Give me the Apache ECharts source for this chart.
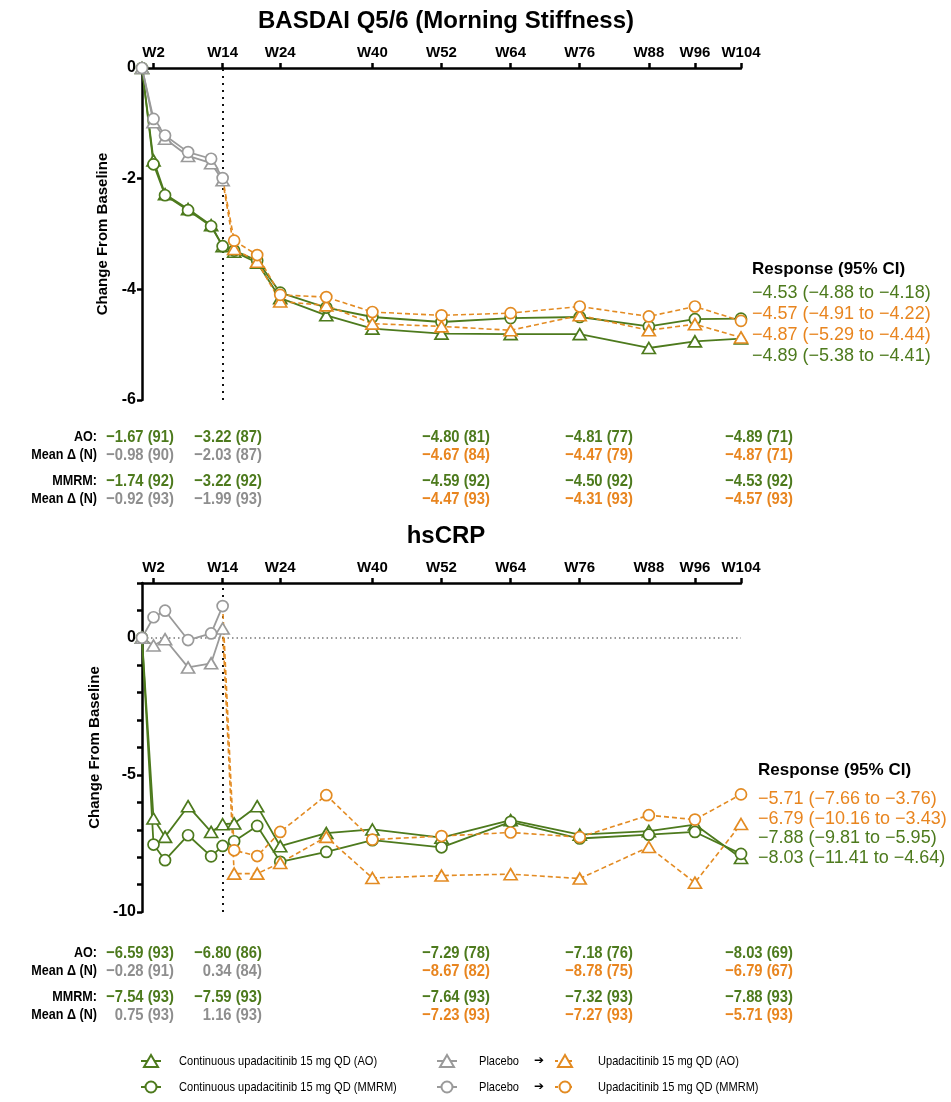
<!DOCTYPE html>
<html><head><meta charset="utf-8">
<script src="https://cdn.jsdelivr.net/npm/echarts@6/dist/echarts.min.js"></script>
<style>html,body{margin:0;padding:0;background:#fff}#c{width:951px;height:1102px}</style>
</head><body><div id="c"></div>
<script>
// ---------- DATA ----------
const weeks = [0,2,4,8,12,14,16,20,24,32,40,52,64,76,88,96,104];
const placeboWeeks = [0,2,4,8,12,14];
const switchWeeks = [14,16,20,24,32,40,52,64,76,88,96,104];
const tickWeeks = [2,14,24,40,52,64,76,88,96,104];

// BASDAI Q5/6
const basdaiUpaAO   = [0,-1.67,-2.28,-2.55,-2.84,-3.22,-3.32,-3.52,-4.16,-4.47,-4.71,-4.80,-4.81,-4.81,-5.06,-4.94,-4.89];
const basdaiUpaMMRM = [0,-1.74,-2.30,-2.57,-2.86,-3.22,-3.30,-3.48,-4.06,-4.33,-4.50,-4.59,-4.52,-4.50,-4.67,-4.54,-4.53];
const basdaiPboAO   = [0,-0.98,-1.28,-1.59,-1.72,-2.03];
const basdaiPboMMRM = [0,-0.92,-1.22,-1.52,-1.64,-1.99];
const basdaiSwAO    = [-2.03,-3.27,-3.50,-4.22,-4.29,-4.62,-4.67,-4.74,-4.47,-4.74,-4.63,-4.87];
const basdaiSwMMRM  = [-1.99,-3.12,-3.38,-4.10,-4.14,-4.41,-4.47,-4.43,-4.31,-4.49,-4.31,-4.57];

// hsCRP
const crpUpaAO   = [0,-6.59,-7.26,-6.14,-7.08,-6.80,-6.77,-6.14,-7.60,-7.12,-6.99,-7.29,-6.65,-7.18,-7.05,-6.81,-8.03];
const crpUpaMMRM = [0,-7.54,-8.11,-7.20,-7.97,-7.59,-7.42,-6.86,-8.17,-7.81,-7.38,-7.64,-6.71,-7.32,-7.18,-7.08,-7.88];
const crpPboAO   = [0,-0.28,-0.05,-1.08,-0.93,0.34];
const crpPboMMRM = [0,0.75,0.99,-0.08,0.16,1.16];
const crpSwAO    = [0.34,-8.60,-8.60,-8.21,-7.26,-8.76,-8.67,-8.62,-8.78,-7.63,-8.93,-6.79];
const crpSwMMRM  = [1.16,-7.75,-7.96,-7.08,-5.74,-7.36,-7.23,-7.10,-7.27,-6.47,-6.63,-5.71];

// Tables (W2, W14, W52, W76, W104)
const basdaiTblAO      = ['−1.67 (91)','−3.22 (87)','−4.80 (81)','−4.81 (77)','−4.89 (71)'];
const basdaiTblAOPbo   = ['−0.98 (90)','−2.03 (87)','−4.67 (84)','−4.47 (79)','−4.87 (71)'];
const basdaiTblMM      = ['−1.74 (92)','−3.22 (92)','−4.59 (92)','−4.50 (92)','−4.53 (92)'];
const basdaiTblMMPbo   = ['−0.92 (93)','−1.99 (93)','−4.47 (93)','−4.31 (93)','−4.57 (93)'];
const crpTblAO         = ['−6.59 (93)','−6.80 (86)','−7.29 (78)','−7.18 (76)','−8.03 (69)'];
const crpTblAOPbo      = ['−0.28 (91)','0.34 (84)','−8.67 (82)','−8.78 (75)','−6.79 (67)'];
const crpTblMM         = ['−7.54 (93)','−7.59 (93)','−7.64 (93)','−7.32 (93)','−7.88 (93)'];
const crpTblMMPbo      = ['0.75 (93)','1.16 (93)','−7.23 (93)','−7.27 (93)','−5.71 (93)'];
const rowLabels = ['AO:','Mean Δ (N)','MMRM:','Mean Δ (N)'];

// Responses (95% CI)
const basdaiResp = ['−4.53 (−4.88 to −4.18)','−4.57 (−4.91 to −4.22)','−4.87 (−5.29 to −4.44)','−4.89 (−5.38 to −4.41)'];
const basdaiRespGroup = ['upa','sw','sw','upa'];
const crpResp = ['−5.71 (−7.66 to −3.76)','−6.79 (−10.16 to −3.43)','−7.88 (−9.81 to −5.95)','−8.03 (−11.41 to −4.64)'];
const crpRespGroup = ['sw','sw','upa','upa'];

const legendRow1 = ['Continuous upadacitinib 15 mg QD (AO)','Placebo','Upadacitinib 15 mg QD (AO)'];
const legendRow2 = ['Continuous upadacitinib 15 mg QD (MMRM)','Placebo','Upadacitinib 15 mg QD (MMRM)'];

// ---------- STYLE ----------
const GREEN = '#4d7a1d', ORANGE = '#e38b22', GRAY = '#9a9a9a', GRAYTXT = '#8e8e8e', ORANGETXT = '#e8851f';
const FONT = "'Liberation Sans', Arial, sans-serif";
const colorOf = {upa: GREEN, sw: ORANGE, pbo: GRAY};

function pairs(xs, ys, firstNoSymbol) {
  return ys.map((v, i) => {
    const d = {value: [xs[i], v]};
    if (firstNoSymbol && i === 0) d.symbol = 'none';
    return d;
  });
}
function lineSeries(idx, xs, ys, grp, sym, dashed) {
  const c = colorOf[grp];
  return {
    type: 'line', xAxisIndex: idx, yAxisIndex: idx,
    data: pairs(xs, ys, grp === 'sw'),
    symbol: sym === 't' ? 'triangle' : 'circle',
    symbolSize: sym === 't' ? [13, 11] : 11,
    showAllSymbol: true,
    lineStyle: {color: c, width: dashed ? 1.6 : 1.8, type: dashed ? [5, 3] : 'solid'},
    itemStyle: {color: '#fff', borderColor: c, borderWidth: 1.7},
    emphasis: {disabled: true}, silent: true, z: 3
  };
}
function vline(idx) {
  return {
    type: 'line', xAxisIndex: idx, yAxisIndex: idx, data: [], silent: true, z: 1,
    markLine: {silent: true, symbol: 'none', label: {show: false}, z: 1,
      lineStyle: {color: '#111', width: 2, type: [2, 5]},
      data: [{xAxis: 14}]}
  };
}

const xAxisBase = (idx) => ({
  gridIndex: idx, type: 'value', min: 0, max: 104, position: 'top',
  axisLine: {show: true, onZero: false, lineStyle: {color: '#000', width: 2.5}},
  axisTick: {show: true, customValues: tickWeeks, length: 5, lineStyle: {color: '#000', width: 2.5}},
  axisLabel: {customValues: tickWeeks, formatter: v => 'W' + v, color: '#000', fontWeight: 'bold', fontSize: 15, fontFamily: FONT, margin: 8},
  splitLine: {show: false}
});

const series = [
  vline(0),
  lineSeries(0, weeks, basdaiUpaAO, 'upa', 't', false),
  lineSeries(0, weeks, basdaiUpaMMRM, 'upa', 'c', false),
  lineSeries(0, placeboWeeks, basdaiPboAO, 'pbo', 't', false),
  lineSeries(0, placeboWeeks, basdaiPboMMRM, 'pbo', 'c', false),
  lineSeries(0, switchWeeks, basdaiSwAO, 'sw', 't', true),
  lineSeries(0, switchWeeks, basdaiSwMMRM, 'sw', 'c', true),
  vline(1),
  {type: 'line', xAxisIndex: 1, yAxisIndex: 1, data: [], silent: true, z: 1,
   markLine: {silent: true, symbol: 'none', label: {show: false}, z: 1,
     lineStyle: {color: '#777', width: 1.5, type: [1.5, 3]}, data: [{yAxis: 0}]}},
  lineSeries(1, weeks, crpUpaAO, 'upa', 't', false),
  lineSeries(1, weeks, crpUpaMMRM, 'upa', 'c', false),
  lineSeries(1, placeboWeeks, crpPboAO, 'pbo', 't', false),
  lineSeries(1, placeboWeeks, crpPboMMRM, 'pbo', 'c', false),
  lineSeries(1, switchWeeks, crpSwAO, 'sw', 't', true),
  lineSeries(1, switchWeeks, crpSwMMRM, 'sw', 'c', true)
];

// ---------- GRAPHIC TEXT ----------
const graphic = [];
function txt(x, y, s, opt, sx) {
  const el = {type: 'text', x: x, y: y, silent: true, style: Object.assign({
    text: s, fill: '#000', font: 'bold 14px ' + FONT, textAlign: 'left', textVerticalAlign: 'middle'
  }, opt || {})};
  if (sx) el.scaleX = sx;
  graphic.push(el);
}
txt(446, 21, 'BASDAI Q5/6 (Morning Stiffness)', {font: 'bold 24px ' + FONT, textAlign: 'center'});
txt(446, 536, 'hsCRP', {font: 'bold 24px ' + FONT, textAlign: 'center'});

const colRight = [174, 262, 490, 633, 793];
function table(y0, rows) {
  const ys = [y0, y0 + 18, y0 + 44, y0 + 62];
  rows.forEach((arr, r) => {
    txt(97, ys[r], rowLabels[r], {textAlign: 'right', font: 'bold 15px ' + FONT}, 0.84);
    arr.forEach((s, i) => {
      let fill = GREEN;
      if (r % 2 === 1) fill = i < 2 ? GRAYTXT : ORANGETXT;
      txt(colRight[i], ys[r], s, {textAlign: 'right', fill: fill, font: 'bold 17px ' + FONT}, 0.87);
    });
  });
}
table(437, [basdaiTblAO, basdaiTblAOPbo, basdaiTblMM, basdaiTblMMPbo]);
table(953, [crpTblAO, crpTblAOPbo, crpTblMM, crpTblMMPbo]);

function resp(x, y0, ys, lines, groups) {
  txt(x, y0, 'Response (95% CI)', {font: 'bold 17px ' + FONT});
  lines.forEach((s, i) => txt(x, ys[i], s, {font: '18px ' + FONT, fill: groups[i] === 'upa' ? GREEN : ORANGETXT}));
}
resp(752, 269, [293, 314, 335, 356], basdaiResp, basdaiRespGroup);
resp(758, 770, [799, 819, 838, 858], crpResp, crpRespGroup);

// ---------- LEGEND (graphic) ----------
function legIcon(cx, cy, grp, sym, dashed) {
  const c = colorOf[grp];
  graphic.push({type: 'line', silent: true, shape: {x1: cx - 10, y1: cy, x2: cx + 10, y2: cy},
    style: {stroke: c, lineWidth: 2, lineDash: dashed ? [3, 4] : null}});
  if (sym === 't') {
    graphic.push({type: 'polygon', silent: true, shape: {points: [[cx, cy - 6], [cx + 7, cy + 6], [cx - 7, cy + 6]]},
      style: {fill: '#fff', stroke: c, lineWidth: 2}});
  } else {
    graphic.push({type: 'circle', silent: true, shape: {cx: cx, cy: cy, r: 5.5},
      style: {fill: '#fff', stroke: c, lineWidth: 2}});
  }
}
[[1061, legendRow1, 't'], [1087, legendRow2, 'c']].forEach(([y, labels, sym]) => {
  legIcon(151, y, 'upa', sym, false);
  txt(179, y, labels[0], {font: '13.5px ' + FONT}, 0.82);
  legIcon(447, y, 'pbo', sym, false);
  txt(479, y, labels[1], {font: '13.5px ' + FONT}, 0.82);
  txt(539, y, '➔', {font: 'bold 12px DejaVu Sans', textAlign: 'center'});
  legIcon(565, y, 'sw', sym, true);
  txt(598, y, labels[2], {font: '13.5px ' + FONT}, 0.82);
});

const option = {
  animation: false,
  backgroundColor: '#fff',
  grid: [
    {left: 142, width: 599, top: 68, height: 332},
    {left: 142, width: 599, top: 583, height: 329}
  ],
  xAxis: [xAxisBase(0), xAxisBase(1)],
  yAxis: [
    {gridIndex: 0, type: 'value', min: -6, max: 0, interval: 2,
     name: 'Change From Baseline', nameLocation: 'middle', nameGap: 32,
     nameTextStyle: {color: '#000', fontWeight: 'bold', fontSize: 15, fontFamily: FONT},
     axisLine: {show: true, onZero: false, lineStyle: {color: '#000', width: 2.5}},
     axisTick: {show: true, length: 5, lineStyle: {color: '#000', width: 2.5}},
     axisLabel: {color: '#000', fontWeight: 'bold', fontSize: 16, fontFamily: FONT, margin: 6},
     splitLine: {show: false}},
    {gridIndex: 1, type: 'value', min: -10, max: 2,
     name: 'Change From Baseline', nameLocation: 'middle', nameGap: 36,
     nameTextStyle: {color: '#000', fontWeight: 'bold', fontSize: 15, fontFamily: FONT},
     axisLine: {show: true, onZero: false, lineStyle: {color: '#000', width: 2.5}},
     axisTick: {show: true, length: 5, customValues: [-10,-9,-8,-7,-6,-5,-4,-3,-2,-1,0,1,2], lineStyle: {color: '#000', width: 2.5}},
     axisLabel: {customValues: [-10, -5, 0], color: '#000', fontWeight: 'bold', fontSize: 16, fontFamily: FONT, margin: 6},
     splitLine: {show: false}}
  ],
  series: series,
  graphic: graphic
};
const chart = echarts.init(document.getElementById('c'), null, {renderer: 'canvas'});
chart.setOption(option);
</script>
</body></html>
